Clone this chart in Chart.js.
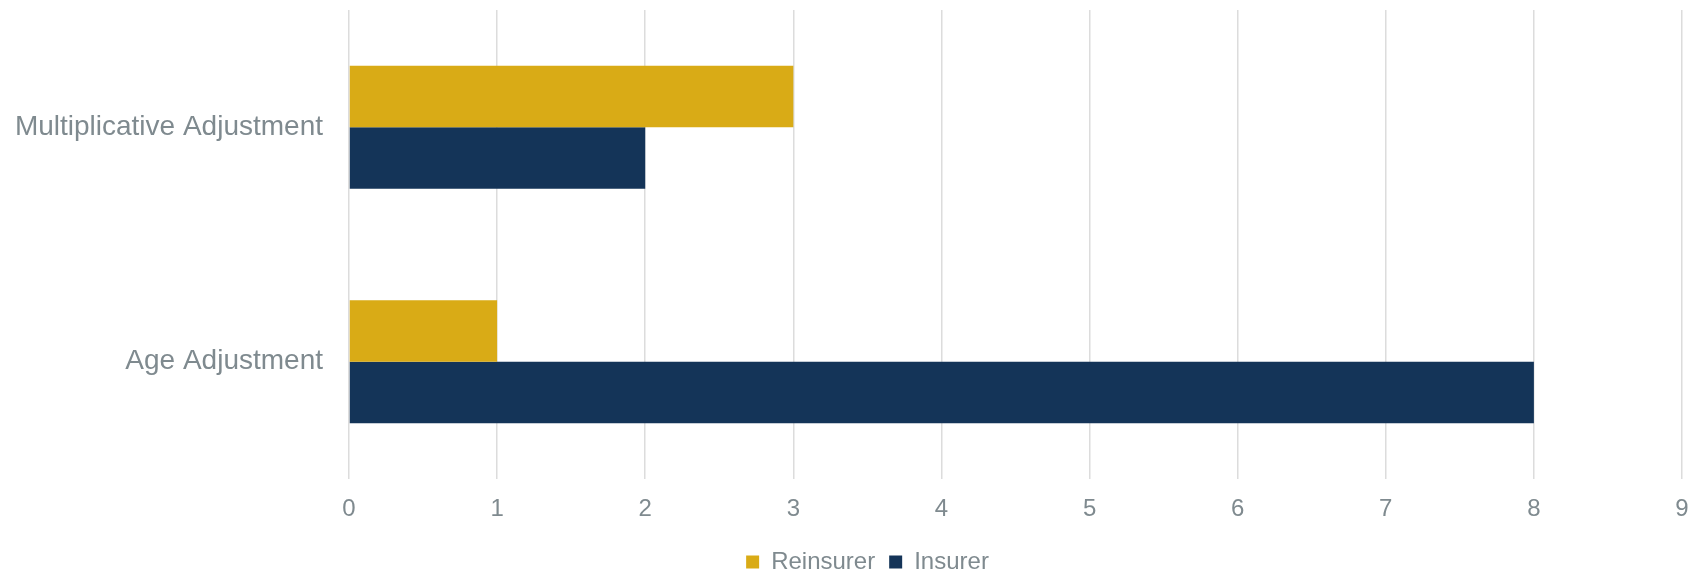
<!DOCTYPE html>
<html>
<head>
<meta charset="utf-8">
<script src="https://cdn.jsdelivr.net/npm/chart.js@4"></script>
<style>
  html, body { margin: 0; padding: 0; background: #fff; }
  #wrap { width: 1688px; height: 569px; }
</style>
</head>
<body>
<div id="wrap"><canvas id="myChart"></canvas></div>
<script>
// Categories, top to bottom
const categories = ['Multiplicative Adjustment', 'Age Adjustment'];
// Series values
const reinsurerValues = [3, 1];
const insurerValues = [2, 8];
// Axis ticks
const xMin = 0;
const xMax = 9;
const xStep = 1;

const textColor = '#7f8a8f';
const fontFamily = '"Liberation Sans", Arial, sans-serif';

// Legend in the reference sits a bit right of the page centre
const legendShift = {
    id: 'legendShift',
    afterLayout(chart) {
        if (chart.legend) {
            chart.legend.left += 47;
        }
    }
};

const ctx = document.getElementById('myChart').getContext('2d');
const chart = new Chart(ctx, {
    type: 'bar',
    data: {
        labels: categories,
        datasets: [{
            label: 'Reinsurer',
            data: reinsurerValues,
            backgroundColor: '#d9ab16'
        }, {
            label: 'Insurer',
            data: insurerValues,
            backgroundColor: '#143458'
        }]
    },
    plugins: [legendShift],
    options: {
        indexAxis: 'y',
        responsive: true,
        maintainAspectRatio: false,
        animation: false,
        categoryPercentage: 0.525,
        barPercentage: 1,
        layout: {
            padding: { top: 10, left: 0, right: 0, bottom: -15 }
        },
        plugins: {
            tooltip: { enabled: false },
            legend: {
                position: 'bottom',
                labels: {
                    boxWidth: 13,
                    boxHeight: 13,
                    padding: 14,
                    color: textColor,
                    font: { family: fontFamily, size: 24 }
                }
            }
        },
        scales: {
            x: {
                min: xMin,
                max: xMax,
                ticks: {
                    stepSize: xStep,
                    color: textColor,
                    padding: 16,
                    font: { family: fontFamily, size: 24 }
                },
                grid: {
                    color: '#dcdcdc',
                    lineWidth: 1.5,
                    drawTicks: false
                },
                border: { display: false },
                afterFit: function (scale) {
                    scale.height = 57;
                    scale.paddingLeft = 0;
                    scale.paddingRight = 6;
                }
            },
            y: {
                ticks: {
                    color: textColor,
                    padding: 26,
                    font: { family: fontFamily, size: 28 }
                },
                grid: { display: false, drawTicks: false },
                border: { display: false },
                afterFit: function (scale) {
                    scale.width = 349;
                    scale.paddingTop = 0;
                    scale.paddingBottom = 0;
                }
            }
        }
    }
});
</script>
</body>
</html>
